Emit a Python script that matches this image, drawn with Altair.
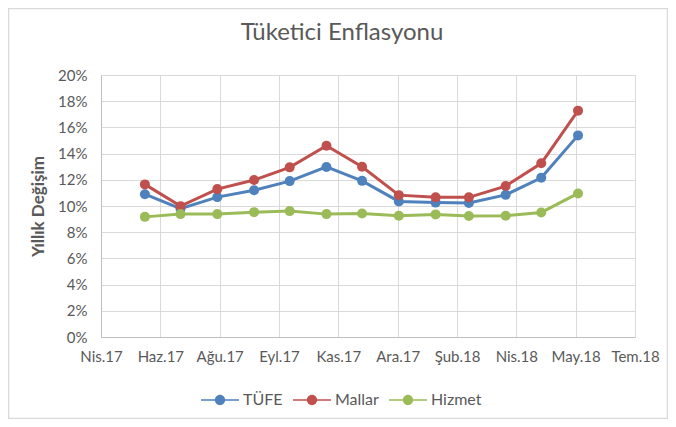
import altair as alt
import pandas as pd

# ---- data ----
months = ["2017-05-31", "2017-06-30", "2017-07-31", "2017-08-31", "2017-09-30",
          "2017-10-31", "2017-11-30", "2017-12-31", "2018-01-31", "2018-02-28",
          "2018-03-31", "2018-04-30", "2018-05-31"]
tufe = [10.90, 9.79, 10.68, 11.20, 11.90, 12.98, 11.92, 10.35, 10.26, 10.23, 10.85, 12.15, 15.39]
mallar = [11.65, 9.99, 11.29, 11.98, 12.95, 14.60, 13.00, 10.83, 10.66, 10.66, 11.52, 13.26, 17.28]
hizmet = [9.17, 9.38, 9.38, 9.53, 9.61, 9.38, 9.43, 9.25, 9.36, 9.23, 9.25, 9.51, 10.96]

series_names = ["TÜFE", "Mallar", "Hizmet"]
series_colors = ["#4F81BD", "#C0504D", "#9BBB59"]
tick_labels = ["Nis.17", "Haz.17", "Ağu.17", "Eyl.17", "Kas.17", "Ara.17",
               "Şub.18", "Nis.18", "May.18", "Tem.18"]
y_ticks = [0, 0.02, 0.04, 0.06, 0.08, 0.10, 0.12, 0.14, 0.16, 0.18, 0.20]
axis_start = "2017-04-24"
tick_step_days = 50

start = pd.Timestamp(axis_start)
offsets = [(pd.Timestamp(m) - start).days for m in months]
rows = []
for name, vals in zip(series_names, [tufe, mallar, hizmet]):
    for o, v in zip(offsets, vals):
        rows.append({"t": o, "v": v / 100.0, "Seri": name})
df = pd.DataFrame(rows)

tick_values = [i * tick_step_days for i in range(len(tick_labels))]
x_max = tick_values[-1]
label_expr = "[" + ",".join(f"'{l}'" for l in tick_labels) + f"][round(datum.value/{tick_step_days})]"

TXT = "#595959"
GRID = "#D9D9D9"
FONT = "Lato"

legend_path = ("M-1,-0.04 L1,-0.04 L1,0.04 L-1,0.04 Z "
               "M0.27,0 A0.27,0.27 0 1,1 -0.27,0 A0.27,0.27 0 1,1 0.27,0 Z")

x_enc = alt.X("t:Q",
              scale=alt.Scale(domain=[0, x_max], nice=False, zero=False),
              axis=alt.Axis(values=tick_values, labelExpr=label_expr, title=None,
                            grid=True, gridColor=GRID, ticks=False,
                            labelOverlap=False, labelFlush=False,
                            labelFontSize=15, labelColor=TXT, labelPadding=12,
                            domainColor="#BFBFBF"))
y_enc = alt.Y("v:Q",
              scale=alt.Scale(domain=[0, 0.20], nice=False),
              axis=alt.Axis(values=y_ticks, format=".0%", title="Yıllık Değişim",
                            titleFontSize=17, titleFontWeight="bold", titleColor=TXT,
                            titlePadding=10, grid=True, gridColor=GRID, ticks=False,
                            labelFontSize=15, labelColor=TXT, labelPadding=14,
                            domainColor="#BFBFBF"))
legend = alt.Legend(title=None, orient="none", legendX=100, legendY=306,
                    direction="horizontal", labelFontSize=16, labelColor=TXT,
                    symbolType=legend_path, symbolSize=1444, symbolStrokeWidth=0,
                    symbolOpacity=1, columnPadding=10, labelOffset=4)
color_enc = alt.Color("Seri:N", scale=alt.Scale(domain=series_names, range=series_colors),
                      sort=series_names, legend=legend)

lines = alt.Chart(df).mark_line(strokeWidth=3).encode(x=x_enc, y=y_enc, color=color_enc)
points = alt.Chart(df).mark_point(filled=True, size=100, opacity=1).encode(
    x=x_enc, y=y_enc, color=color_enc)

frame = alt.Chart(pd.DataFrame({"a": [0]})).mark_rect(
    fill="transparent", stroke="#D9D9D9", strokeWidth=1.5
).encode(x=alt.value(-92.5), x2=alt.value(566.5), y=alt.value(-66.5), y2=alt.value(343.5))

chart = alt.layer(frame, lines, points).properties(
    width=534, height=262,
    padding={"left": 93, "top": 67, "right": 33, "bottom": 82},
    autosize=alt.AutoSizeParams(type="none"),
    title=alt.Title("Tüketici Enflasyonu", fontSize=24, color=TXT, font=FONT,
                    fontWeight="normal", anchor="middle", dx=-26, offset=-37),
    background="white",
).configure(font=FONT).configure_view(stroke="transparent")

chart.save("out.html", embed_options={"renderer": "svg", "actions": False})
